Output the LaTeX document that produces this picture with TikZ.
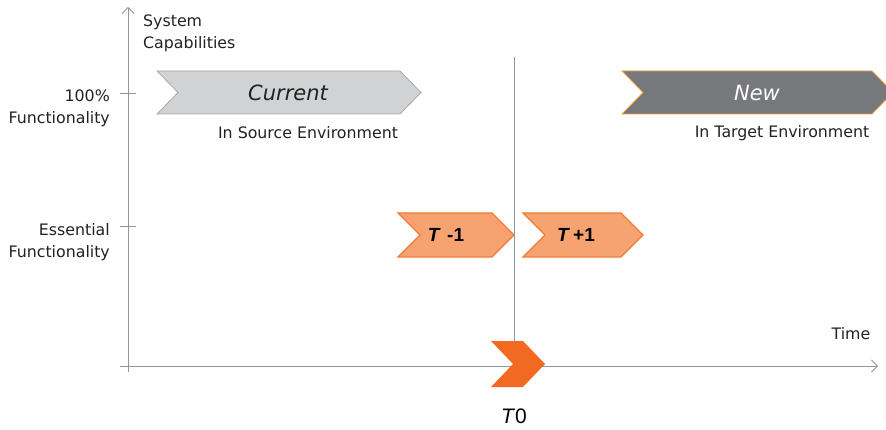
\documentclass[tikz,border=0pt]{standalone}
\usepackage{fontspec}
\setmainfont{DejaVu Sans}
\newfontfamily\arialf{Liberation Sans}
\usetikzlibrary{arrows.meta}
\definecolor{axisc}{HTML}{8E97A8}
\definecolor{curfill}{HTML}{D1D2D4}
\definecolor{curdraw}{HTML}{A7A9AC}
\definecolor{newfill}{HTML}{77787B}
\definecolor{newdraw}{HTML}{F2A23A}
\definecolor{tfill}{HTML}{F7A271}
\definecolor{tdraw}{HTML}{F07B36}
\definecolor{tzero}{HTML}{F26A22}
\definecolor{txt}{HTML}{222222}
% \chevr{left}{right}{ymid}{halfheight}{depth}{style}
\newcommand{\chevr}[6]{%
  \draw[#6] (#1,#3-#4) -- (#2-#5,#3-#4) -- (#2,#3) -- (#2-#5,#3+#4) -- (#1,#3+#4) -- (#1+#5,#3) -- cycle;}
\tikzset{
  axis/.style={draw=axisc, line width=0.8pt},
  lbl/.style={font=\fontsize{15.8}{22}\selectfont, text=txt, inner sep=0pt},
}
\begin{document}
\begin{tikzpicture}[x=1pt,y=-1pt]
\useasboundingbox (0,0) rectangle (886,430);
% axes
\coordinate (ybot) at (128,372);
\coordinate (ytop) at (128,7);
\coordinate (xl) at (120,366);
\coordinate (xr) at (878,366);
\draw[axis, -{Straight Barb[length=6pt,width=12pt]}] (ybot) -- (ytop);
\draw[axis, -{Straight Barb[length=6pt,width=12pt]}] (xl) -- (xr);
\coordinate (t1a) at (120,93); \coordinate (t1b) at (136,93);
\coordinate (t2a) at (120,226); \coordinate (t2b) at (136,226);
\draw[axis] (t1a) -- (t1b);
\draw[axis] (t2a) -- (t2b);
\coordinate (vt) at (514,57); \coordinate (vb) at (514,366);
\draw[axis] (vt) -- (vb);
% chevrons
\chevr{157}{421}{92.5}{21.5}{21}{fill=curfill, draw=curdraw, line width=0.8pt}
\chevr{622}{893}{92.5}{21.5}{21}{fill=newfill, draw=newdraw, line width=0.8pt}
\chevr{398}{514}{235}{22}{22}{fill=tfill, draw=tdraw, line width=1.2pt}
\chevr{523}{643}{235}{22}{22}{fill=tfill, draw=tdraw, line width=1.2pt}
\chevr{491}{545}{364}{23}{22}{fill=tzero, draw=none}
% texts
\node[lbl, align=left, anchor=north west] (sys) at (143,15) {System\\Capabilities};
\node[lbl, align=right, anchor=east] (f100) at (110,108) {100\%\\Functionality};
\node[lbl, align=right, anchor=east] (fess) at (110,242) {Essential\\Functionality};
\node[lbl] (time) at (851,334) {Time};
\node[lbl] (src) at (308,133) {In Source Environment};
\node[lbl] (tgt) at (782,133) {In Target Environment};
\node[font=\fontsize{21}{24}\selectfont\itshape, text=txt] (cur) at (288,93) {Current};
\node[font=\fontsize{21}{24}\selectfont\itshape, text=white] (new) at (757,93) {New};
\node[font=\arialf\fontsize{19}{22}\selectfont\bfseries, text=black] (tm) at (446,235) {\textit{T}\,\,-1};
\node[font=\arialf\fontsize{19}{22}\selectfont\bfseries, text=black] (tp) at (576,235) {\textit{T}\,+1};
\node[font=\arialf\fontsize{21}{24}\selectfont, text=black] (t0) at (514,416) {\textit{T}0};
\end{tikzpicture}
\end{document}
